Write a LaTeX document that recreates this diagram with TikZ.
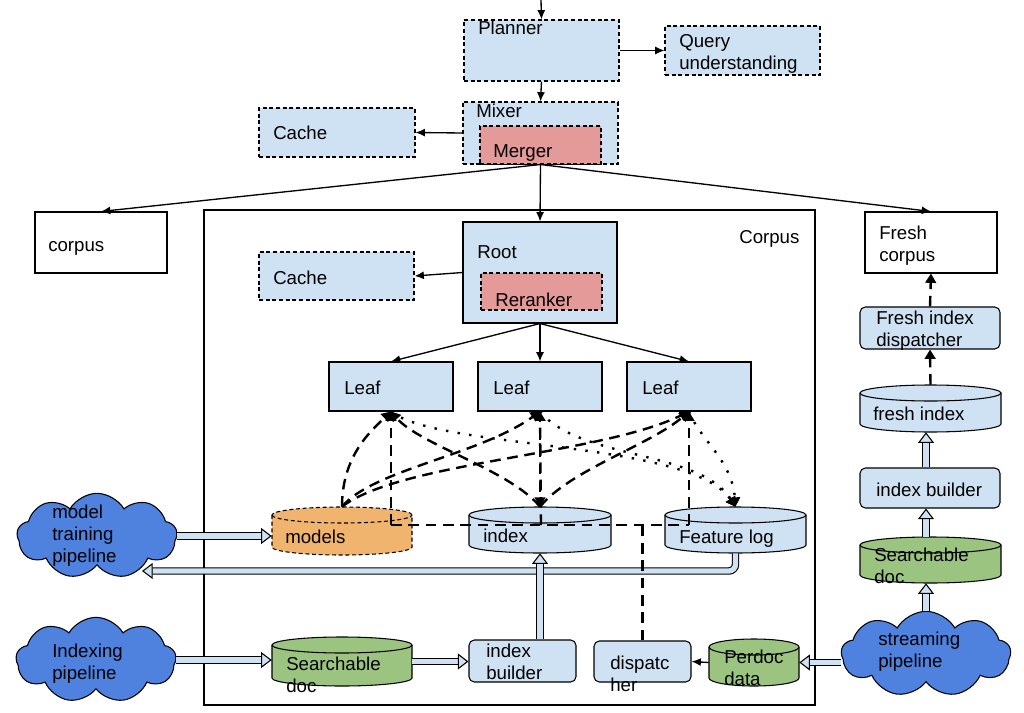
\documentclass[tikz,border=0pt]{standalone}
\usepackage{fontspec}
\setmainfont{Liberation Sans}
\usetikzlibrary{arrows.meta,shapes.symbols,fit,calc}
\definecolor{lb}{HTML}{CFE2F3}
\definecolor{rd}{HTML}{E39A99}
\definecolor{org}{HTML}{F0B46E}
\definecolor{grn}{HTML}{9CC481}
\definecolor{cld}{HTML}{4F82DF}
\newcommand\mybox[6]{\node[fit={(#2,#3) (#4,#5)}, inner sep=0, #6] (#1) {};}
\newcommand\mycyl[7]{%
  \pgfmathsetmacro\cw{(#4-#2)/2*0.75}%
  \path[draw, line width=0.8pt, fill=#6, #7] (#2,#3+8) -- (#2,#5-8) arc[start angle=180,end angle=360,x radius=\cw pt,y radius=6pt] -- (#4,#3+8) arc[start angle=0,end angle=180,x radius=\cw pt,y radius=6pt] -- cycle;
  \path[draw, line width=0.8pt, #7] (#2,#3+8) arc[start angle=180,end angle=360,x radius=\cw pt,y radius=6pt];
  \node[fit={(#2,#3) (#4,#5)}, inner sep=0] (#1) {};}
\begin{document}
\begin{tikzpicture}[x=0.75pt,y=-0.75pt,
  box/.style={draw, line width=0.8pt, fill=lb},
  wbox/.style={draw, line width=0.8pt, fill=white},
  dbox/.style={box, dash pattern=on 3pt off 2pt},
  rbox/.style={box, rounded corners=4pt},
  txt/.style={inner sep=0, anchor=base west, align=left, font=\fontsize{14}{16.5}\selectfont},
  arr/.style={line width=1pt, -{Latex[length=7pt,width=6pt]}},
  dline/.style={line width=1.8pt, dash pattern=on 8pt off 5pt},
  dtip/.style={-{Triangle[length=7pt,width=8pt]}},
  dotl/.style={line width=1.8pt, dash pattern=on 1.8pt off 7pt},
  block/.style={double=lb, double distance=4pt, line width=0.8pt, -{Triangle[fill=lb, length=8pt, width=12pt]}},
  cloudn/.style={cloud, cloud puffs=9, cloud puff arc=120, aspect=2, draw, line width=0.8pt, fill=cld, inner sep=0}
]
\useasboundingbox (0,0) rectangle (1024,713);

% top part
\coordinate (topin) at (541,0);
\mybox{planner}{464}{20}{619}{81}{dbox}
\mybox{qu}{665}{26}{820}{75}{dbox}
\mybox{mixer}{463}{102}{618}{164}{dbox}
\mybox{merger}{480}{126}{601}{164}{dbox, fill=rd}
\mybox{cacheA}{259}{108}{415}{157}{dbox}
\node[txt] (tplanner) at (478,35) {Planner};
\node[txt] (tqu) at (679,70) {Query\\understanding};
\node[txt] (tmixer) at (476,118) {Mixer};
\node[txt] (tmerger) at (493,158) {Merger};
\node[txt] (tcacheA) at (273,140) {Cache};
\draw[arr] (topin) -- (planner.north);
\draw[arr] (planner.east) -- (qu.west);
\draw[arr] (planner.south) -- (mixer.north);
\draw[arr] (mixer.west) -- (cacheA.east);

% corpora
\mybox{corpusL}{35}{212}{167}{273}{wbox}
\mybox{corpus}{204}{210}{815}{705}{draw, line width=0.8pt}
\mybox{freshc}{865}{212}{997}{273}{wbox}
\node[txt] (tcorpusL) at (48,251) {corpus};
\node[txt] (tcorpus) at (739,243) {Corpus};
\node[txt] (tfreshc) at (879,261) {Fresh\\corpus};

% root
\mybox{root}{463}{222}{617}{323}{box}
\mybox{reranker}{481}{273}{602}{310}{dbox, fill=rd}
\mybox{cacheB}{259}{252}{414}{300}{dbox}
\node[txt] (troot) at (477,258) {Root};
\node[txt] (treranker) at (495,306) {Reranker};
\node[txt] (tcacheB) at (273,284) {Cache};
\draw[arr] (merger.south) -- (corpusL.north);
\draw[arr] (merger.south) -- (root.north);
\draw[arr] (merger.south) -- (freshc.north);
\draw[arr] (root.west) -- (cacheB.east);

% leaves
\mybox{leafA}{329}{362}{453}{411}{box}
\mybox{leafB}{478}{362}{602}{411}{box}
\mybox{leafC}{627}{362}{751}{411}{box}
\node[txt] (tleafA) at (344,394) {Leaf};
\node[txt] (tleafB) at (493,394) {Leaf};
\node[txt] (tleafC) at (642,394) {Leaf};
\draw[arr] (root.south) -- (leafA.north);
\draw[arr] (root.south) -- (leafB.north);
\draw[arr] (root.south) -- (leafC.north);

% cylinders
\mycyl{models}{272}{507}{412}{555}{org}{dash pattern=on 3pt off 2pt}
\mycyl{index}{469}{507}{611}{553}{lb}{}
\mycyl{flog}{665}{507}{806}{553}{lb}{}
\mycyl{sdocA}{272}{637}{412}{686}{grn}{}
\mycyl{perdoc}{709}{639}{799}{686}{grn}{}
\mycyl{fidx}{860}{385}{1001}{432}{lb}{}
\mycyl{sdocB}{860}{537}{1001}{583}{grn}{}
\node[txt] (tmodels) at (285,543) {models};
\node[txt] (tindex) at (483,542) {index};
\node[txt] (tflog) at (679,543) {Feature log};
\node[txt] (tsdocA) at (286,692) {Searchable\\doc};
\node[txt] (tperdoc) at (724,685) {Perdoc\\data};
\node[txt] (tfidx) at (873,420) {fresh index};
\node[txt] (tsdocB) at (874,583) {Searchable\\doc};

% rounded boxes
\mybox{ibA}{469}{640}{576}{682}{rbox}
\mybox{disp}{594}{641}{691}{682}{rbox}
\mybox{ibB}{860}{468}{1000}{508}{rbox}
\mybox{fid}{860}{307}{1000}{349}{rbox}
\node[txt] (tibA) at (486,679) {index\\builder};
\node[txt] (tdisp) at (610,691) {dispatc\\her};
\node[txt] (tibB) at (876,496) {index builder};
\node[txt] (tfid) at (876,346) {Fresh index\\dispatcher};

% clouds
\node[cloudn, minimum width=120pt, minimum height=64pt] (mcloud) at (97,536) {};
\node[cloudn, minimum width=120pt, minimum height=64pt] (icloud) at (96,660) {};
\node[cloudn, minimum width=127pt, minimum height=64pt] (scloud) at (926,654) {};
\node[txt] (tmcloud) at (52,562) {model\\training\\pipeline};
\node[txt] (ticloud) at (52,679) {Indexing\\pipeline};
\node[txt] (tscloud) at (878,667) {streaming\\pipeline};

% block arrows
\coordinate (mret) at (142,571);
\draw[block] (mcloud.east) -- (mcloud.east -| models.west);
\draw[block, rounded corners=5pt] (flog.south) |- (mret);
\draw[block] (icloud.east) -- (icloud.east -| sdocA.west);
\draw[block] (sdocA.east) -- (sdocA.east -| ibA.west);
\draw[block] (index.south |- ibA.north) -- (index.south);
\draw[block] (scloud.west |- perdoc.east) -- (perdoc.east);
\draw[block] (scloud.north) -- (scloud.north |- sdocB.south);
\draw[block] (sdocB.north -| scloud.north) -- (ibB.south -| scloud.north);
\draw[block] (ibB.north -| scloud.north) -- (fidx.south -| scloud.north);
\draw[dline, dtip] (fidx.north) -- (fid.south);
\draw[dline, dtip] (fid.north) -- (freshc.south);
\draw[arr] (perdoc.west) -- (disp.east);

% dispatcher bus
\coordinate (busA) at (391,525);
\coordinate (busB) at (541,525);
\coordinate (busC) at (689,525);
\draw[dline] (disp.north) -- (disp.north |- busA);
\draw[dline] (busA) -- (busC);
\draw[dline, dtip] (busA) -- (leafA.south);
\draw[dline, dtip] (busB) -- (leafB.south);
\draw[dline, dtip] (busC) -- (leafC.south);

% models and index to leaves
\draw[dline, dtip] (models.north) .. controls (342,455) and (372,430) .. (leafA.south);
\draw[dline, dtip] (models.north) .. controls (372,470) and (480,455) .. (leafB.south);
\draw[dline, dtip] (models.north) .. controls (400,462) and (600,455) .. (leafC.south);
\draw[dline, dtip] (index.north) .. controls (510,470) and (420,445) .. (leafA.south);
\draw[dline, dtip] (index.north) .. controls (570,470) and (650,445) .. (leafC.south);
\draw[dline, dtip] (leafB.south) -- (index.north);

% leaves to feature log
\draw[dotl, dtip] (leafA.south) .. controls (440,450) and (690,440) .. (flog.north);
\draw[dotl, dtip] (leafB.south) .. controls (580,460) and (700,450) .. (flog.north);
\draw[dotl, dtip] (leafC.south) .. controls (700,440) and (732,460) .. (flog.north);
\end{tikzpicture}
\end{document}
